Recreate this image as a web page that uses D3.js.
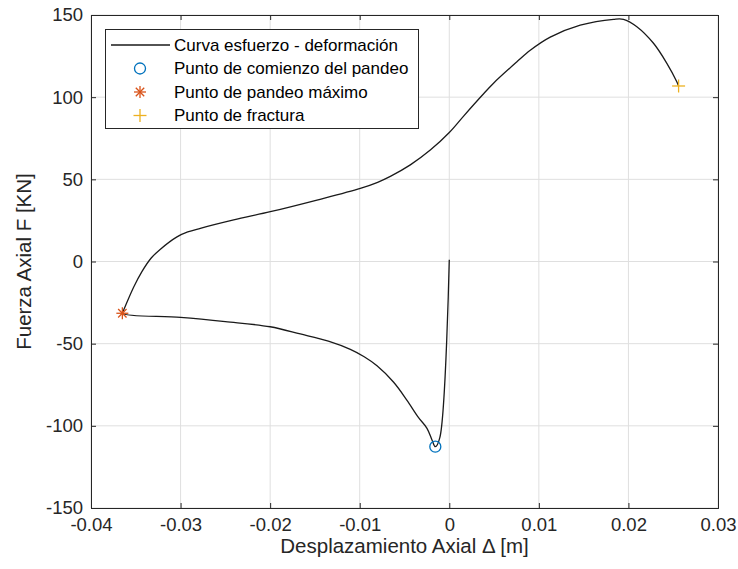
<!DOCTYPE html>
<html><head><meta charset="utf-8">
<script src="https://cdn.jsdelivr.net/npm/d3@7"></script>
<style>body{margin:0;background:#fff}svg{display:block}text{font-family:"Liberation Sans",Arial,Helvetica,sans-serif}</style>
</head><body><svg id="c" width="738" height="569"></svg>
<script>
// Data
const curveX = [0, -0.00105, -0.00156, -0.00193, -0.00249, -0.00343, -0.00472, -0.00621, -0.00807, -0.0095, -0.01105, -0.0135, -0.01663, -0.020, -0.025, -0.030, -0.0365, -0.03635, -0.03523, -0.0343, -0.0333, -0.03225, -0.0304, -0.0292, -0.02779, -0.02407, -0.01998, -0.01477, -0.00993, -0.0080, -0.00658, -0.00435, -0.00212, 0, 0.0016, 0.00365, 0.00494, 0.00755, 0.00904, 0.01127, 0.01462, 0.01834, 0.01945, 0.02094, 0.0228, 0.02429, 0.0254, 0.0256];
const curveF = [1, -107, -112.7, -108.6, -101.5, -95, -84.5, -73.5, -63.5, -58, -53.5, -48.5, -44.1, -39.7, -36.6, -34, -31.5, -29.5, -15.5, -6, 2, 7.5, 15, 18, 20.2, 25.3, 30.3, 37.4, 44.5, 48.2, 51.8, 58.8, 67.8, 78.5, 88.5, 101, 108.5, 121.5, 128.5, 136.5, 143.8, 147.4, 147.4, 142.9, 132.8, 120.6, 109.4, 106.8];
const pandeoInicio = [-0.00156, -112.7];
const pandeoMax = [-0.0365, -31.5];
const fractura = [0.0256, 106.8];
const xTicks = [-0.04, -0.03, -0.02, -0.01, 0, 0.01, 0.02, 0.03];
const yTicks = [-150, -100, -50, 0, 50, 100, 150];
const legendLabels = ["Curva esfuerzo - deformación", "Punto de comienzo del pandeo", "Punto de pandeo máximo", "Punto de fractura"];
const xLabel = "Desplazamiento Axial Δ [m]";
const yLabel = "Fuerza Axial F [KN]";

const svg = d3.select("#c");
const L = 91, R = 718, T = 15, B = 508;
const x = d3.scaleLinear().domain([-0.04, 0.03]).range([L, R]);
const y = d3.scaleLinear().domain([-150, 150]).range([B, T]);
const axisCol = "#262626";

// grid
const g = svg.append("g");
g.selectAll(".gx").data(xTicks).join("line")
  .attr("x1", d => x(d)).attr("x2", d => x(d)).attr("y1", T).attr("y2", B)
  .attr("stroke", "#dfdfdf").attr("stroke-width", 1);
g.selectAll(".gy").data(yTicks).join("line")
  .attr("y1", d => y(d)).attr("y2", d => y(d)).attr("x1", L).attr("x2", R)
  .attr("stroke", "#dfdfdf").attr("stroke-width", 1);

// axes
const fmtX = d => String(+d.toFixed(2));
const fmtY = d => String(d);
const xa = svg.append("g").attr("transform", `translate(0,${B})`)
  .call(d3.axisBottom(x).tickValues(xTicks).tickSize(-5).tickPadding(10).tickFormat(fmtX));
const xt = svg.append("g").attr("transform", `translate(0,${T})`)
  .call(d3.axisTop(x).tickValues(xTicks).tickSize(-5).tickFormat(""));
const ya = svg.append("g").attr("transform", `translate(${L},0)`)
  .call(d3.axisLeft(y).tickValues(yTicks).tickSize(-5).tickPadding(8).tickFormat(fmtY));
const yr = svg.append("g").attr("transform", `translate(${R},0)`)
  .call(d3.axisRight(y).tickValues(yTicks).tickSize(-5).tickFormat(""));
[xa, xt, ya, yr].forEach(a => {
  a.selectAll("path").attr("stroke", axisCol).attr("stroke-width", 1);
  a.selectAll("line").attr("stroke", axisCol);
  a.selectAll("text").attr("fill", axisCol).style("font-size", "18.5px")
   .style("font-family", '"Liberation Sans",Arial,sans-serif');
});

// curve
const pts = curveX.map((d, i) => [d, curveF[i]]);
const line = d3.line().x(d => x(d[0])).y(d => y(d[1])).curve(d3.curveCatmullRom.alpha(0.5));
svg.append("path").datum(pts).attr("d", line).attr("fill", "none")
  .attr("stroke", "#1a1a1a").attr("stroke-width", 1.3);

// markers
function circleM(sel, cx, cy) {
  sel.append("circle").attr("cx", cx).attr("cy", cy).attr("r", 5.5)
    .attr("fill", "none").attr("stroke", "#0072BD").attr("stroke-width", 1.3);
}
function starM(sel, cx, cy) {
  const s = 6, c = "#D95319";
  const segs = [[-s,0,s,0],[0,-s,0,s],[-s*0.7,-s*0.7,s*0.7,s*0.7],[-s*0.7,s*0.7,s*0.7,-s*0.7]];
  segs.forEach(q => sel.append("line").attr("x1", cx+q[0]).attr("y1", cy+q[1]).attr("x2", cx+q[2]).attr("y2", cy+q[3])
    .attr("stroke", c).attr("stroke-width", 1.3));
}
function plusM(sel, cx, cy) {
  const s = 6.5, c = "#EDB120";
  sel.append("line").attr("x1", cx-s).attr("x2", cx+s).attr("y1", cy).attr("y2", cy).attr("stroke", c).attr("stroke-width", 1.3);
  sel.append("line").attr("x1", cx).attr("x2", cx).attr("y1", cy-s).attr("y2", cy+s).attr("stroke", c).attr("stroke-width", 1.3);
}
circleM(svg, x(pandeoInicio[0]), y(pandeoInicio[1]));
starM(svg, x(pandeoMax[0]), y(pandeoMax[1]));
plusM(svg, x(fractura[0]), y(fractura[1]));

// legend
const lg = svg.append("g");
lg.append("rect").attr("x", 105.5).attr("y", 29.5).attr("width", 313).attr("height", 99)
  .attr("fill", "#fff").attr("stroke", axisCol).attr("stroke-width", 1);
const rowY = [45, 68.5, 92, 115.5];
lg.append("line").attr("x1", 111).attr("x2", 170).attr("y1", rowY[0]).attr("y2", rowY[0])
  .attr("stroke", "#1a1a1a").attr("stroke-width", 1.3);
circleM(lg, 140, rowY[1]);
starM(lg, 140, rowY[2]);
plusM(lg, 140, rowY[3]);
lg.selectAll("text.l").data(legendLabels).join("text").attr("class", "l")
  .attr("x", 174).attr("y", (d, i) => rowY[i]).attr("dy", "0.35em")
  .style("font-size", "17px").attr("fill", "#000").text(d => d);

// axis labels
svg.append("text").attr("x", (L + R) / 2).attr("y", 553).attr("text-anchor", "middle")
  .style("font-size", "20.5px").attr("fill", axisCol).text(xLabel);
svg.append("text").attr("transform", `translate(31,${(T + B) / 2}) rotate(-90)`)
  .attr("text-anchor", "middle").style("font-size", "20.5px").attr("fill", axisCol).text(yLabel);
</script></body></html>
